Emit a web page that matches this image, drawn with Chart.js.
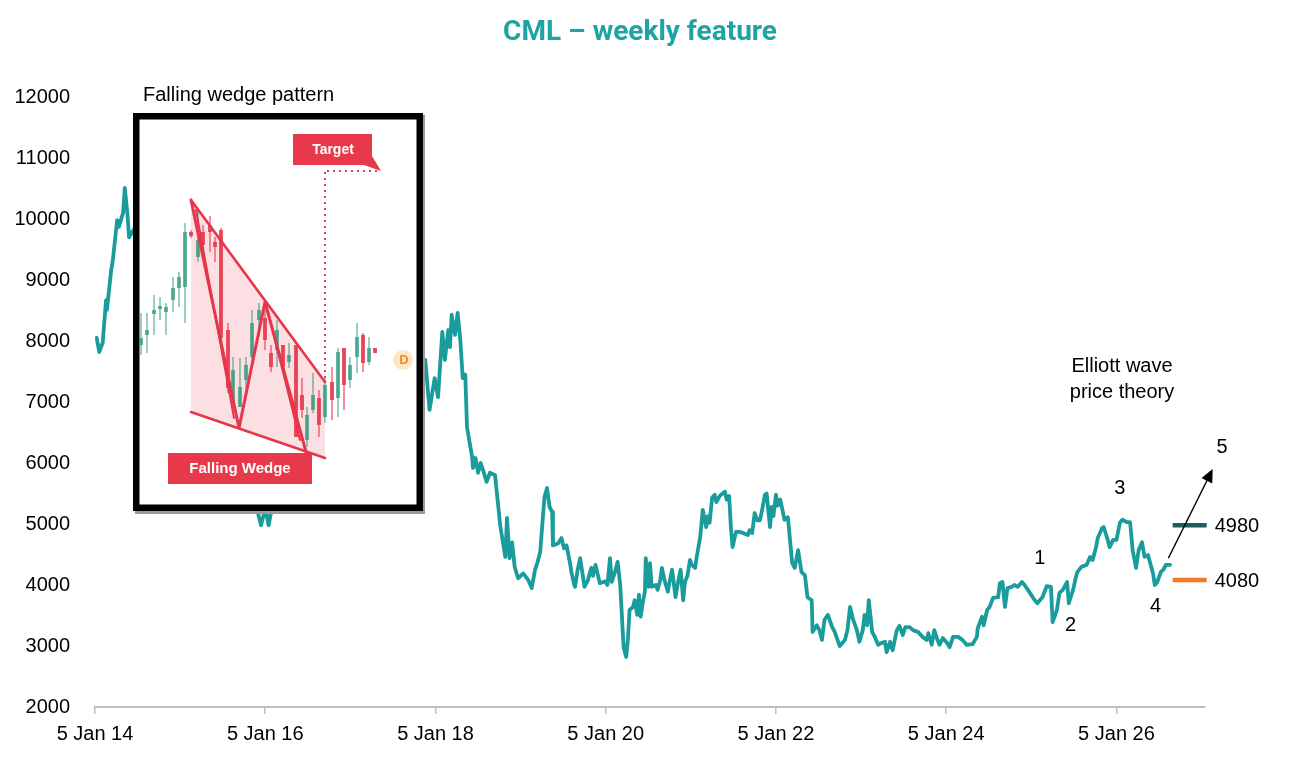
<!DOCTYPE html>
<html><head><meta charset="utf-8">
<script src="https://cdn.jsdelivr.net/npm/chart.js@4.4.1/dist/chart.umd.min.js"></script>
<style>html,body{margin:0;padding:0;background:#fff}#wrap{width:1300px;height:780px;position:relative}</style>
</head><body><div id="wrap"><canvas id="c"></canvas></div>
<script>
// ---- data (decimal years, weekly close values) ----
const dates = [
2014.02,2014.05,2014.09,2014.13,2014.14,2014.19,2014.21,2014.26,2014.28,2014.33,2014.35,2014.38,2014.40,
2014.53,2014.65,2014.82,2015.00,2015.17,2015.35,2015.53,2015.70,2015.84,2015.95,2016.00,2016.04,2016.11,2016.23,2016.41,2016.64,2016.94,2017.23,2017.52,2017.70,2017.88,
2017.93,2017.99,2018.03,2018.08,2018.11,2018.15,2018.17,2018.19,2018.23,2018.26,2018.29,2018.32,2018.35,2018.37,2018.43,2018.44,2018.47,2018.50,2018.53,2018.56,2018.60,2018.64,2018.70,
2018.76,2018.82,2018.84,2018.87,2018.90,2018.93,2018.97,2019.03,2019.09,2019.13,2019.17,2019.20,2019.23,2019.25,2019.28,2019.31,2019.34,2019.37,2019.38,2019.44,2019.48,2019.51,2019.54,
2019.58,2019.60,2019.63,2019.64,2019.67,2019.70,2019.72,2019.75,2019.79,2019.83,2019.85,2019.88,2019.93,2019.99,2020.02,2020.05,2020.07,2020.11,2020.14,2020.17,
2020.21,2020.24,2020.26,2020.28,2020.32,2020.34,2020.37,2020.39,2020.41,2020.44,2020.46,2020.47,2020.50,2020.52,2020.54,2020.59,2020.61,2020.64,2020.66,2020.69,2020.73,2020.75,2020.78,
2020.82,2020.85,2020.88,2020.91,2020.93,2020.96,2020.99,2021.01,2021.05,2021.07,2021.11,2021.14,2021.18,2021.20,2021.22,2021.25,2021.28,2021.30,2021.34,2021.38,2021.40,2021.42,2021.45,
2021.47,2021.49,2021.53,2021.57,2021.62,2021.67,2021.69,2021.72,2021.75,2021.78,2021.81,2021.83,2021.87,2021.89,2021.93,2021.95,2021.97,2022.00,2022.02,2022.05,
2022.10,2022.14,2022.19,2022.22,2022.26,2022.30,2022.34,2022.37,2022.42,2022.43,2022.48,2022.51,2022.54,2022.57,2022.61,2022.66,2022.69,2022.73,2022.75,2022.81,2022.84,2022.87,2022.90,
2022.95,2022.98,2023.02,2023.04,2023.07,2023.09,2023.13,2023.16,2023.20,2023.24,2023.28,2023.30,2023.34,2023.37,2023.42,2023.45,2023.49,2023.52,2023.57,2023.61,2023.67,2023.72,2023.77,
2023.79,2023.83,2023.86,2023.89,2023.92,2023.96,2024.01,2024.04,2024.08,2024.14,2024.19,2024.24,2024.31,2024.36,2024.37,2024.42,2024.44,2024.48,2024.51,2024.55,2024.61,2024.63,2024.66,
2024.69,2024.72,2024.77,2024.80,2024.84,2024.89,2024.92,2024.96,2025.02,2025.07,2025.13,2025.18,2025.23,2025.25,2025.30,2025.33,2025.37,2025.42,2025.44,2025.49,2025.52,2025.54,2025.59,
2025.65,2025.69,2025.72,2025.76,2025.78,2025.83,2025.85,2025.89,2025.92,2025.96,2026.00,2026.04,2026.07,2026.12,2026.16,2026.19,2026.23,2026.26,2026.30,2026.33,2026.37,2026.43,2026.45,
2026.48,2026.52,2026.55,2026.58,2026.63
];
const values = [
8050,7820,7970,8670,8510,9160,9330,9980,9870,10100,10510,10100,9700,
10000,9500,9200,8600,8000,7300,6800,6100,5600,4980,5250,4980,5500,6000,6500,6900,7300,7600,8000,7800,7690,
6870,7390,7080,8150,7690,8180,7900,8430,8100,8460,8050,7390,7450,6590,6100,5920,6080,5840,6000,5880,5690,5840,5800,
4980,4460,5100,4440,4700,4300,4110,4190,4080,3950,4250,4380,4540,4900,5440,5590,5280,5200,4650,4680,4770,4600,4650,
4360,4190,4000,3970,4250,4440,4250,3970,4080,4280,4150,4330,4030,4060,4000,4440,4050,4220,4380,4000,
2980,2820,3100,3590,3640,3750,3510,3840,3480,3750,3890,4440,3970,4360,3970,4000,3920,4080,4280,4080,3890,4050,4250,
3800,4050,4250,3750,4050,4150,4410,4330,4280,4470,4790,5230,4950,5130,5020,5430,5480,5360,5460,5510,5530,5400,5460,
4950,4620,4870,4870,4850,4820,4900,4850,5180,5060,5060,5180,5480,5500,4950,5280,5130,5480,5300,5400,
5070,5110,4360,4280,4570,4210,4160,3800,3750,3230,3340,3260,3100,3430,3510,3310,3230,3070,3000,3100,3260,3640,3460,
3260,3070,3260,3510,3340,3750,3230,3150,3020,3050,3070,2900,3070,2930,3260,3330,3180,3310,3310,3260,3230,3150,3100,
3210,3020,3260,3130,3020,3130,3050,2980,3150,3150,3100,3020,3030,3150,3290,3480,3340,3590,3640,3790,3800,4030,4050,
3640,3950,3970,4000,3970,4050,4000,3920,3790,3700,3800,3980,3970,3390,3590,3870,3920,4050,3700,3920,4110,4210,4300,
4330,4460,4410,4620,4770,4930,4950,4770,4620,4740,4740,5020,5070,5030,5030,4570,4280,4570,4700,4460,4490,4190,4000,
4050,4210,4250,4330,4330
];
const tickYears = [2014,2016,2018,2020,2022,2024,2026];
const levelValues = [4980, 4080];
const levelColors = ['#1c5d5d', '#f47b20'];
const levelSpan = [2026.66, 2027.06];
const waveLabels = ['1','2','3','4','5'];
const waveX = [2025.10, 2025.46, 2026.04, 2026.46, 2027.24];
const waveY = [4440, 3340, 5590, 3640, 6250];
const arrowFrom = [2026.61, 4440];
const arrowTo = [2027.13, 5900];

const FONT = "'Liberation Sans', Arial, sans-serif";
const TEAL = '#1a9c9c';

// ---- inset picture (falling wedge illustration) ----
const G = 'rgba(40,150,120,0.7)', R = 'rgba(228,56,76,0.85)';
const insetCandles = [
[141,313,355,338,345,G],[147,313,353,330,335,G],[154,295,335,310,314,G],[160,297,320,306,309,G],
[166,303,335,307,312,G],[173,277,312,288,300,G],[179,272,307,277,288,G],[185,223,323,232,287,G],
[191,230,238,232,236,R],[198,210,262,240,257,G],[203,225,252,232,245,R],[210,216,252,225,232,R],
[215,237,262,242,247,R],[221,228,340,230,338,R],[228,323,393,330,388,R],[233,357,413,370,405,G],
[240,358,407,387,407,G],[246,357,388,365,380,G],[252,310,360,323,357,G],[259,303,337,310,320,G],
[265,310,350,318,340,R],[271,345,372,353,367,R],[277,320,367,330,350,G],[283,345,370,345,367,R],
[289,343,368,355,362,G],[296,345,437,345,437,R],[302,378,418,395,410,R],[307,407,447,415,440,G],
[313,373,413,395,410,G],[319,390,437,398,425,R],[325,377,423,385,417,G],[332,367,420,382,400,R],
[338,348,417,352,398,G],[344,348,410,348,385,R],[350,357,388,365,380,G],[357,323,373,337,357,G],
[363,333,372,335,363,R],[369,337,365,348,362,G],[375,348,353,348,353,R]
];
function drawInset(ctx){
  ctx.save();
  ctx.fillStyle = '#9a9a9a'; ctx.fillRect(135,115,290,399);
  ctx.fillStyle = '#000'; ctx.fillRect(133,113,290,398);
  ctx.fillStyle = '#fff'; ctx.fillRect(139.5,119.5,277,385);
  // wedge fill
  ctx.fillStyle = '#fbdfe2';
  ctx.beginPath(); ctx.moveTo(191,200); ctx.lineTo(325,382); ctx.lineTo(325,458); ctx.lineTo(191,412); ctx.closePath(); ctx.fill();
  // candles
  insetCandles.forEach(c => {
    ctx.strokeStyle = c[5]; ctx.fillStyle = c[5]; ctx.lineWidth = 1.3;
    ctx.beginPath(); ctx.moveTo(c[0], c[1]); ctx.lineTo(c[0], c[2]); ctx.stroke();
    ctx.fillRect(c[0]-2, c[3], 4, Math.max(2, c[4]-c[3]));
  });
  // wedge lines
  ctx.strokeStyle = '#e5364b'; ctx.lineCap = 'round'; ctx.lineJoin = 'round';
  ctx.lineWidth = 2.6;
  ctx.beginPath(); ctx.moveTo(191,200); ctx.lineTo(325,382); ctx.stroke();
  ctx.beginPath(); ctx.moveTo(191,412); ctx.lineTo(325,458); ctx.stroke();
  ctx.lineWidth = 3;
  ctx.beginPath(); ctx.moveTo(191,200); ctx.lineTo(239,428); ctx.lineTo(265,302); ctx.lineTo(306,452); ctx.stroke();
  ctx.lineWidth = 2;
  ctx.beginPath(); ctx.moveTo(196,210); ctx.lineTo(234,418); ctx.stroke();
  ctx.beginPath(); ctx.moveTo(268,312); ctx.lineTo(300,440); ctx.stroke();
  // dotted target lines
  ctx.strokeStyle = '#d3455f'; ctx.lineWidth = 2; ctx.lineCap = 'butt'; ctx.setLineDash([2,4]);
  ctx.beginPath(); ctx.moveTo(325,172); ctx.lineTo(325,382); ctx.stroke();
  ctx.beginPath(); ctx.moveTo(327,171); ctx.lineTo(381,171); ctx.stroke();
  ctx.setLineDash([]);
  // labels
  ctx.fillStyle = '#e8394a';
  ctx.fillRect(293,134,79,31);
  ctx.beginPath(); ctx.moveTo(364,165); ctx.lineTo(372,156); ctx.lineTo(381,171); ctx.closePath(); ctx.fill();
  ctx.fillRect(168,453,144,31);
  ctx.fillStyle = '#fff'; ctx.textAlign = 'center'; ctx.textBaseline = 'middle';
  ctx.font = 'bold 14px ' + FONT; ctx.fillText('Target', 333, 150);
  ctx.font = 'bold 15px ' + FONT; ctx.fillText('Falling Wedge', 240, 469);
  // D marker
  ctx.fillStyle = '#fde6c4'; ctx.beginPath(); ctx.arc(403,360,10,0,Math.PI*2); ctx.fill();
  ctx.fillStyle = '#e8902a'; ctx.font = 'bold 13px ' + FONT; ctx.fillText('D', 404, 360);
  ctx.restore();
}

const annotate = {
  id: 'annotate',
  afterDatasetsDraw(chart){
    const ctx = chart.ctx, xs = chart.scales.x, ys = chart.scales.y;
    drawInset(ctx);
    ctx.save();
    // title
    ctx.fillStyle = '#1fa3a3'; ctx.font = 'bold 28px Roboto, ' + FONT;
    ctx.textAlign = 'center'; ctx.textBaseline = 'middle';
    ctx.fillText('CML \u2013 weekly feature', 640, 33);
    ctx.fillStyle = '#000'; ctx.font = '20px ' + FONT;
    ctx.textAlign = 'left';
    ctx.fillText('Falling wedge pattern', 143, 95);
    ctx.textAlign = 'center';
    ctx.fillText('Elliott wave', 1122, 366);
    ctx.fillText('price theory', 1122, 392);
    waveLabels.forEach((t,i) => ctx.fillText(t, xs.getPixelForValue(waveX[i]), ys.getPixelForValue(waveY[i])));
    // arrow
    const x1 = xs.getPixelForValue(arrowFrom[0]), y1 = ys.getPixelForValue(arrowFrom[1]);
    const x2 = xs.getPixelForValue(arrowTo[0]), y2 = ys.getPixelForValue(arrowTo[1]);
    const ang = Math.atan2(y2-y1, x2-x1);
    ctx.strokeStyle = '#000'; ctx.lineWidth = 1.3;
    ctx.beginPath(); ctx.moveTo(x1,y1); ctx.lineTo(x2-12*Math.cos(ang), y2-12*Math.sin(ang)); ctx.stroke();
    ctx.beginPath(); ctx.moveTo(x2,y2);
    ctx.lineTo(x2-13*Math.cos(ang)+6*Math.sin(ang), y2-13*Math.sin(ang)-6*Math.cos(ang));
    ctx.lineTo(x2-13*Math.cos(ang)-6*Math.sin(ang), y2-13*Math.sin(ang)+6*Math.cos(ang));
    ctx.closePath(); ctx.fillStyle = '#000'; ctx.fill();
    // level labels
    ctx.textAlign = 'left';
    levelValues.forEach(v => ctx.fillText(String(v), xs.getPixelForValue(levelSpan[1]) + 8, ys.getPixelForValue(v) + 1));
    ctx.restore();
  }
};

const datasets = [{
  data: dates.map((d,i) => ({x:d, y:values[i]})),
  borderColor: TEAL, borderWidth: 3.8, pointRadius: 0, tension: 0,
  borderJoinStyle: 'round', borderCapStyle: 'round', order: 1
}];
levelValues.forEach((v,i) => datasets.push({
  data: levelSpan.map(x => ({x, y:v})),
  borderColor: levelColors[i], borderWidth: 4.5, pointRadius: 0, clip: false, order: 2
}));

new Chart(document.getElementById('c'), {
  type: 'line',
  data: { datasets },
  options: {
    responsive: true, maintainAspectRatio: false, animation: false, devicePixelRatio: 1,
    layout: { padding: { top: 97, right: 95, left: 0, bottom: 0 } },
    plugins: { legend: { display: false }, tooltip: { enabled: false } },
    scales: {
      x: {
        type: 'linear', min: 2014, max: 2027.04,
        afterBuildTicks: s => { s.ticks = tickYears.map(v => ({value: v})); },
        afterFit: s => { s.height = 73; },
        ticks: { autoSkip: false, maxRotation: 0, padding: 8, color: '#000',
          font: { family: FONT, size: 20 },
          callback: v => '5 Jan ' + String(v).slice(2) },
        grid: { display: true, drawOnChartArea: false, drawTicks: true, tickLength: 7, color: '#bfbfbf', lineWidth: 1.5 },
        border: { display: true, color: '#bfbfbf', width: 2 }
      },
      y: {
        min: 2000, max: 12000,
        afterFit: s => { s.width = 95; },
        ticks: { stepSize: 1000, padding: 25, color: '#000', font: { family: FONT, size: 20 },
          callback: v => String(v) },
        grid: { display: false, drawTicks: false },
        border: { display: false }
      }
    }
  },
  plugins: [annotate]
});
</script></body></html>
